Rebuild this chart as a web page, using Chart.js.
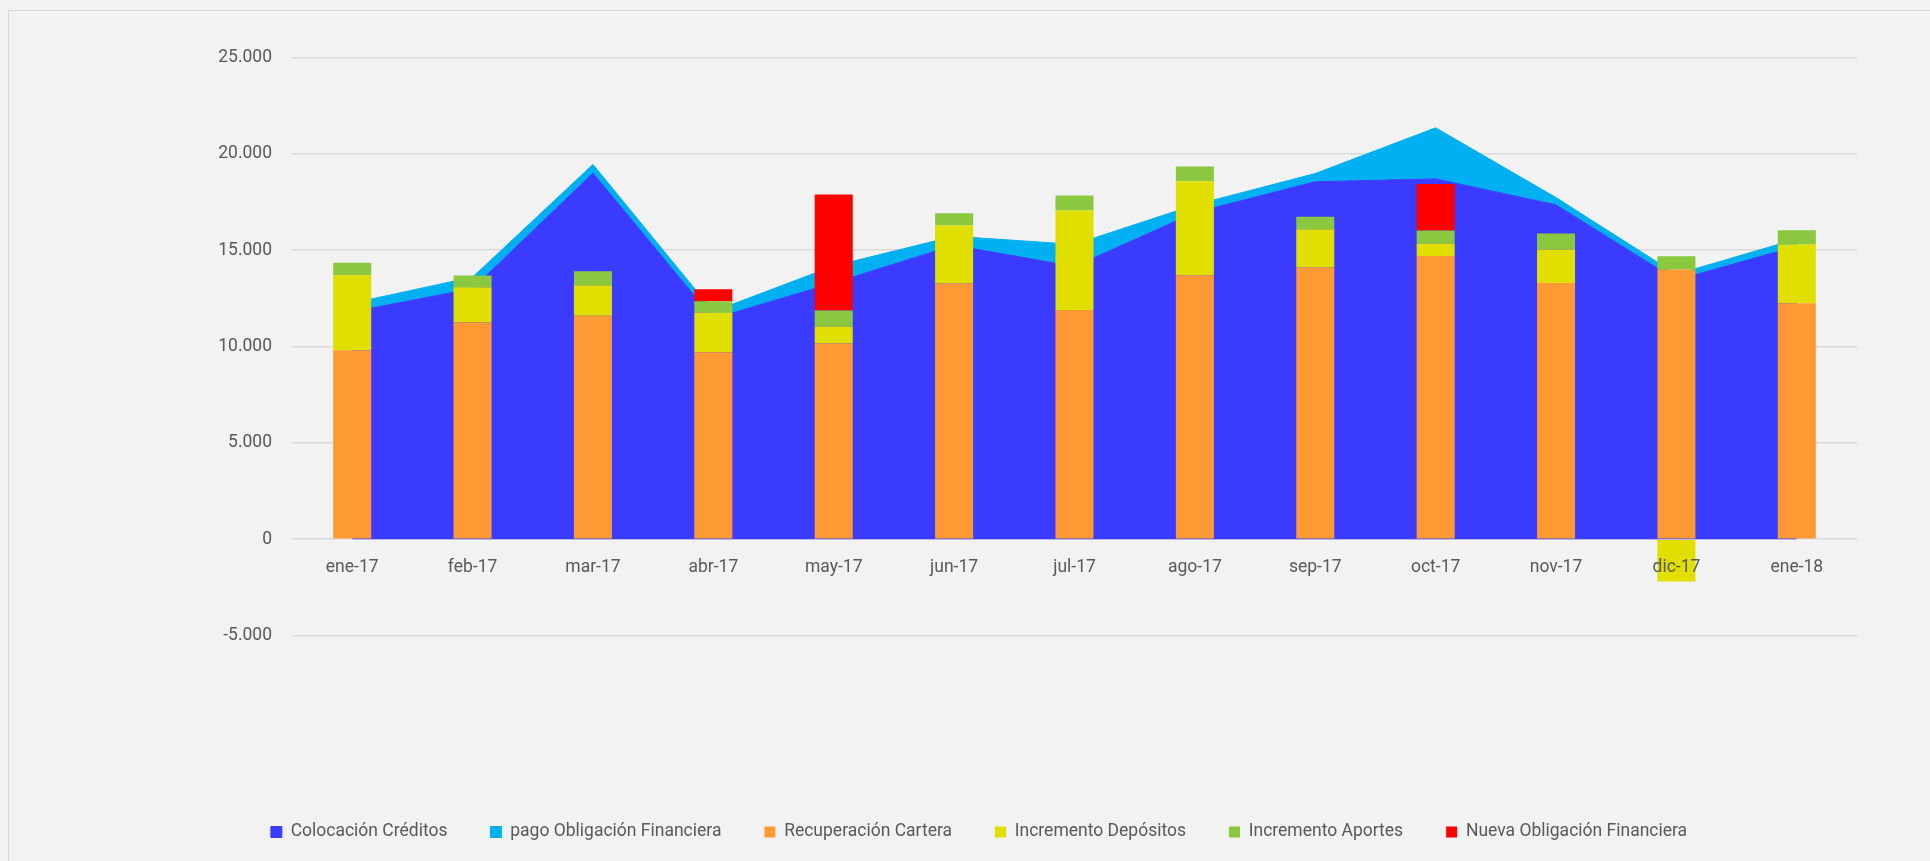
<!DOCTYPE html>
<html>
<head>
<meta charset="utf-8">
<script src="https://cdn.jsdelivr.net/npm/chart.js@4.4.0/dist/chart.umd.min.js"></script>
<style>
  html, body { margin: 0; padding: 0; background: #F2F2F2; overflow: hidden; width: 1930px; height: 861px; }
  #frame { position: absolute; left: 8px; top: 10px; width: 2000px; height: 900px; border: 1.5px solid #D9D9D9; box-sizing: border-box; }
  #c { position: absolute; left: 0; top: 0; }
</style>
</head>
<body>
<div id="frame"></div>
<canvas id="c" width="1958" height="861" style="width:1958px;height:861px"></canvas>
<script>
const categories = ['ene-17','feb-17','mar-17','abr-17','may-17','jun-17','jul-17','ago-17','sep-17','oct-17','nov-17','dic-17','ene-18'];
const colocacionCreditos = [11800, 13000, 19000, 11450, 13300, 15250, 14150, 16950, 18550, 18700, 17350, 13450, 15200];
const pagoObligacion = [450, 600, 450, 370, 880, 470, 1150, 400, 430, 2650, 380, 300, 380];
const recuperacionCartera = [9800, 11250, 11600, 9700, 10150, 13270, 11900, 13700, 14100, 14700, 13300, 14000, 12250];
const incrementoDepositos = [3900, 1830, 1580, 2070, 890, 3010, 5160, 4880, 1990, 650, 1740, -2200, 3040];
const incrementoAportes = [650, 610, 720, 575, 835, 630, 780, 760, 650, 670, 830, 680, 740];
const nuevaObligacion = [null, null, null, 630, 6010, null, null, null, null, 2410, null, null, null];
const yTicks = [-5000, 0, 5000, 10000, 15000, 20000, 25000];

const FONT = "Roboto, 'DejaVu Sans', sans-serif";
const TXT = '#595959';

function fmt(v) {
  const s = Math.abs(v).toString().replace(/\B(?=(\d{3})+(?!\d))/g, '.');
  return (v < 0 ? '-' : '') + s;
}

const areaBase = { type: 'line', stack: 'area', order: 1, pointRadius: 0, pointHoverRadius: 0, tension: 0, borderWidth: 1 };
const barBase = { type: 'bar', stack: 'bars', order: 0, borderWidth: 0, barPercentage: 0.316, categoryPercentage: 1 };

new Chart(document.getElementById('c'), {
  data: {
    labels: categories,
    datasets: [
      Object.assign({}, areaBase, { label: 'Colocación Créditos', data: colocacionCreditos, backgroundColor: '#3B3BFF', borderColor: '#3B3BFF', fill: 'origin' }),
      Object.assign({}, areaBase, { label: 'pago Obligación Financiera', data: pagoObligacion, backgroundColor: '#00B0F0', borderColor: '#00B0F0', fill: '-1' }),
      Object.assign({}, barBase, { label: 'Recuperación Cartera', data: recuperacionCartera, backgroundColor: '#FF9933' }),
      Object.assign({}, barBase, { label: 'Incremento Depósitos', data: incrementoDepositos, backgroundColor: '#E1DF00' }),
      Object.assign({}, barBase, { label: 'Incremento Aportes', data: incrementoAportes, backgroundColor: '#89C83F' }),
      Object.assign({}, barBase, { label: 'Nueva Obligación Financiera', data: nuevaObligacion, backgroundColor: '#FF0000' })
    ]
  },
  options: {
    responsive: false,
    animation: false,
    devicePixelRatio: 1,
    layout: { padding: { top: 57.5, left: 101, right: 101, bottom: 10.25 } },
    plugins: {
      tooltip: { enabled: false },
      legend: {
        position: 'bottom',
        weight: 1000,
        labels: {
          boxWidth: 11, boxHeight: 11, padding: 43, color: TXT,
          font: { family: FONT, size: 17.5 },
          sort: (a, b) => a.datasetIndex - b.datasetIndex
        }
      }
    },
    scales: {
      x: {
        type: 'category',
        position: { y: 0 },
        stacked: true,
        offset: true,
        grid: { display: false, drawTicks: false },
        border: { display: false },
        ticks: { z: 1, color: TXT, font: { family: FONT, size: 17.5 }, padding: 18, maxRotation: 0, autoSkip: false }
      },
      x2: {
        type: 'category',
        position: 'bottom',
        display: true,
        grid: { display: false, drawTicks: false },
        border: { display: false },
        ticks: { display: false },
        afterFit: (s) => { s.height = 144.75; }
      },
      y: {
        stacked: true,
        min: -5000, max: 25000,
        afterBuildTicks: (s) => { s.ticks = yTicks.map(v => ({ value: v })); },
        grid: { color: '#D9D9D9', lineWidth: 1.5, drawTicks: false },
        border: { display: false },
        ticks: { color: TXT, font: { family: FONT, size: 17.5 }, padding: 20, callback: (v) => fmt(v) },
        afterFit: (s) => { s.width = 191; }
      }
    }
  }
});
</script>
</body>
</html>
